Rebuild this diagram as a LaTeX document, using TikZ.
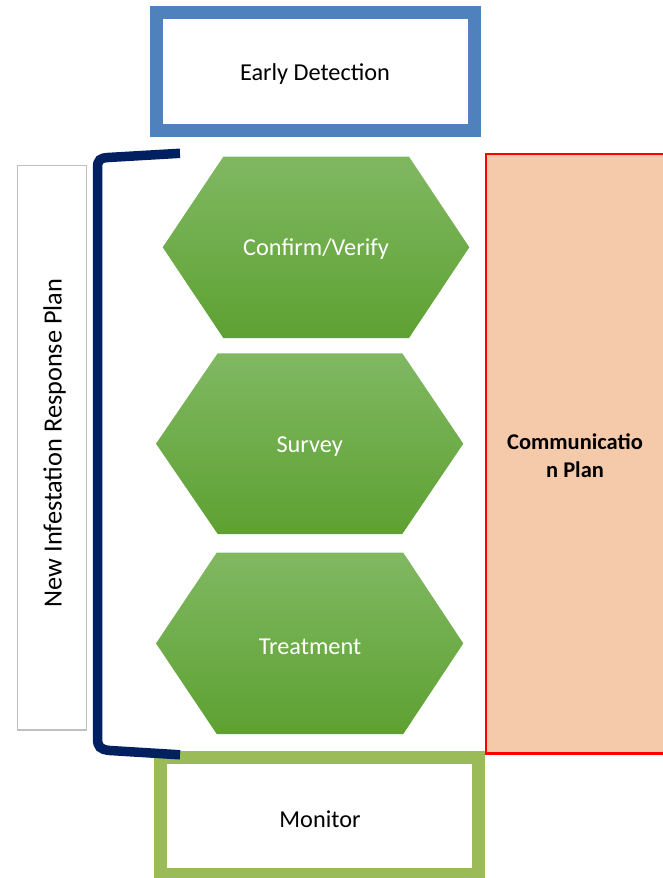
\documentclass[tikz,border=0pt]{standalone}
\usepackage{fontspec}
\setmainfont{Carlito}
\definecolor{edblue}{HTML}{4F81BD}
\definecolor{mongreen}{HTML}{9BBB59}
\definecolor{navy}{HTML}{002060}
\definecolor{commfill}{HTML}{F5CAAB}
\definecolor{commred}{HTML}{FF0000}
\definecolor{labgray}{HTML}{BFBFBF}
\definecolor{hextop}{HTML}{80B862}
\definecolor{hexbot}{HTML}{5EA132}
\tikzset{
  framebox/.style={line width=13pt},
  hexshade/.style={top color=hextop, bottom color=hexbot, draw=none},
  hextext/.style={text=white, font=\fontsize{24.3}{29}\selectfont},
  boxtext/.style={text=black, font=\fontsize{24.3}{29}\selectfont},
}
\begin{document}
\begin{tikzpicture}[x=1pt,y=-1pt]
\useasboundingbox (0,0) rectangle (662,878);
% Early detection
\draw[framebox, draw=edblue, fill=white] (156,12.7) rectangle (474,130);
\node[boxtext] (ed) at (315,74) {Early Detection};
% Communication plan
\draw[draw=commred, line width=2.2pt, fill=commfill] (486,154.3) rectangle (680,753.5);
\node[font=\fontsize{22.5}{28}\selectfont\bfseries, align=center] (comm) at (575,455.5) {Communicatio\\n Plan};
% Left label
\draw[draw=labgray, line width=1.2pt, fill=white] (17.5,165.5) rectangle (86.5,730);
\node[rotate=90, font=\fontsize{26.3}{31}\selectfont] (nirp) at (54.5,443) {New Infestation Response Plan};
% Hexagons
\shade[hexshade] (162.7,247.3) -- (223.3,156.7) -- (409,156.7) -- (469.3,247.3) -- (409,338) -- (223.3,338) -- cycle;
\node[hextext] (cv) at (316,249.3) {Confirm/Verify};
\shade[hexshade] (156,443.7) -- (217.7,353.3) -- (402.3,353.3) -- (463.3,443.7) -- (402.3,534) -- (217.7,534) -- cycle;
\node[hextext] (sv) at (309.7,446.5) {Survey};
\shade[hexshade] (156,643.4) -- (216.7,552.7) -- (403.3,552.7) -- (463.3,643.4) -- (403.3,734) -- (216.7,734) -- cycle;
\node[hextext] (tr) at (310,646.5) {Treatment};
% Monitor
\draw[framebox, draw=mongreen, fill=white] (160.8,757) rectangle (478.7,874.6);
\node[boxtext] (mon) at (320,819) {Monitor};
% Bracket
\coordinate (btop) at (180,153.3);
\coordinate (bbot) at (180,754.8);
\draw[navy, line width=9.5pt] (btop) -- (108,157.5) .. controls (100,158) and (97.5,160) .. (97.5,168) -- (97.5,738) .. controls (97.5,747) and (100,749.5) .. (110,750.5) -- (bbot);
\end{tikzpicture}
\end{document}
